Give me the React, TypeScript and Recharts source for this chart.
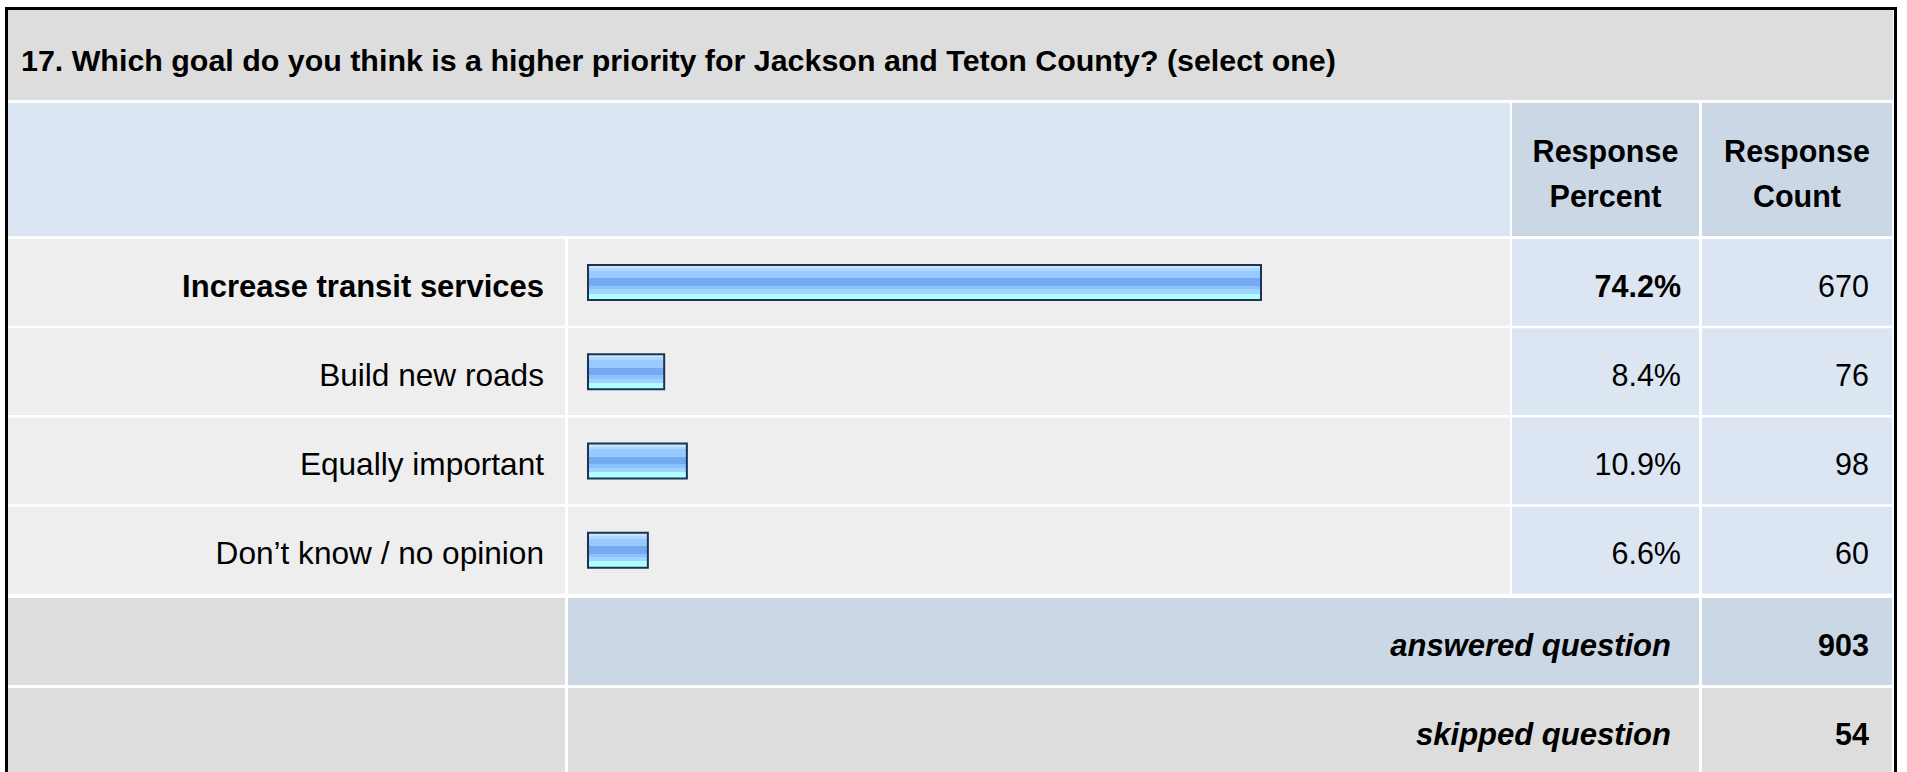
import React from "react"
import { BarChart, Bar, XAxis, YAxis, LabelList } from "recharts"

// survey question 17 – response summary
const TITLE = "17. Which goal do you think is a higher priority for Jackson and Teton County? (select one)"
const CATEGORIES = [
    "Increase transit services",
    "Build new roads",
    "Equally important",
    "Don’t know / no opinion",
]
const PERCENTS = [74.2, 8.4, 10.9, 6.6]
const COUNTS = [670, 76, 98, 60]
const ANSWERED = 903
const SKIPPED = 54

const W = 1907
const H = 772
const FONT = "'Liberation Sans', Arial, Helvetica, sans-serif"

// table geometry
const ROW_TOP = 239
const ROW_H = 89.25
const COL_LABEL = [8, 565]
const COL_BAR = [568, 1510]
const COL_PCT = [1512, 1699]
const COL_CNT = [1702, 1892]
const Y_AXIS_W = 40

const data = CATEGORIES.map((label, i) => ({ label, pct: PERCENTS[i], count: COUNTS[i] }))
const topIdx = PERCENTS.indexOf(Math.max(...PERCENTS))

function LabelTick(props: any) {
    const { y, payload } = props
    const bold = payload.value === CATEGORIES[topIdx]
    return (
        <text x={544} y={y + 14} textAnchor="end" fontFamily={FONT} fontSize={bold ? 31 : 31.6}
            fontWeight={bold ? "bold" : "normal"} fill="#000">
            {payload.value}
        </text>
    )
}

function PercentCell(props: any) {
    const { y, height, value, index } = props
    return (
        <text x={1681} y={y + height / 2 + 14} textAnchor="end" fontFamily={FONT} fontSize={30.5}
            fontWeight={index === topIdx ? "bold" : "normal"} fill="#000">
            {`${Number(value).toFixed(1)}%`}
        </text>
    )
}

function CountCell(props: any) {
    const { y, height, value } = props
    return (
        <text x={1869} y={y + height / 2 + 14} textAnchor="end" fontFamily={FONT} fontSize={30.5} fill="#000">
            {value}
        </text>
    )
}

function Cell({ col, top, h, fill }: { col: number[]; top: number; h: number; fill: string }) {
    return <rect x={col[0]} y={top} width={col[1] - col[0]} height={h} fill={fill} />
}

function TableBackground() {
    const footTop = ROW_TOP + ROW_H * CATEGORIES.length
    return (
        <svg width={W} height={H} style={{ position: "absolute", left: 0, top: 0 }}>
            <rect x={6.5} y={8.5} width={1889} height={790} fill="#fff" stroke="#000" strokeWidth={3} />
            <rect x={8} y={10} width={1885} height={90} fill="#dddddd" />
            <text x={21} y={71} fontFamily={FONT} fontSize={30.4} fontWeight="bold" fill="#000">{TITLE}</text>

            {/* header */}
            <rect x={8} y={103} width={COL_BAR[1] - 8} height={133} fill="#dce6f3" />
            <Cell col={COL_PCT} top={103} h={133} fill="#cbd7e5" />
            <Cell col={COL_CNT} top={103} h={133} fill="#cbd7e5" />
            {[["Response", "Percent", COL_PCT], ["Response", "Count", COL_CNT]].map(([a, b, col]: any, i) => (
                <text key={i} x={(col[0] + col[1]) / 2} textAnchor="middle" fontFamily={FONT} fontSize={30.5}
                    fontWeight="bold" fill="#000">
                    <tspan x={(col[0] + col[1]) / 2} y={162}>{a}</tspan>
                    <tspan x={(col[0] + col[1]) / 2} y={207}>{b}</tspan>
                </text>
            ))}

            {/* answer rows */}
            {CATEGORIES.map((_c, i) => {
                const top = ROW_TOP + i * ROW_H
                const h = ROW_H - 2.5
                return (
                    <g key={i}>
                        <Cell col={COL_LABEL} top={top} h={h} fill="#eeeeee" />
                        <Cell col={COL_BAR} top={top} h={h} fill="#eeeeee" />
                        <Cell col={COL_PCT} top={top} h={h} fill="#dce6f3" />
                        <Cell col={COL_CNT} top={top} h={h} fill="#dce6f3" />
                    </g>
                )
            })}

            {/* answered / skipped */}
            <Cell col={COL_LABEL} top={footTop + 2} h={87} fill="#dddddd" />
            <Cell col={[COL_BAR[0], COL_PCT[1]]} top={footTop + 2} h={87} fill="#cbd7e5" />
            <Cell col={COL_CNT} top={footTop + 2} h={87} fill="#cbd7e5" />
            <Cell col={COL_LABEL} top={footTop + 92} h={100} fill="#dddddd" />
            <Cell col={[COL_BAR[0], COL_PCT[1]]} top={footTop + 92} h={100} fill="#dddddd" />
            <Cell col={COL_CNT} top={footTop + 92} h={100} fill="#dddddd" />
            <g fontFamily={FONT} fontSize={30.5} fontWeight="bold" fill="#000">
                <text x={1671} y={footTop + 60} textAnchor="end" fontStyle="italic" fontSize={31}>answered question</text>
                <text x={1869} y={footTop + 60} textAnchor="end">{ANSWERED}</text>
                <text x={1671} y={footTop + 149} textAnchor="end" fontStyle="italic" fontSize={31}>skipped question</text>
                <text x={1869} y={footTop + 149} textAnchor="end">{SKIPPED}</text>
            </g>
        </svg>
    )
}

export default function App() {
    return (
        <div style={{ position: "absolute", left: 0, top: 0, width: W, height: H, overflow: "hidden", background: "#fff" }}>
            <TableBackground />
            <div style={{ position: "absolute", left: 0, top: 0 }}>
                <BarChart
                    width={W}
                    height={H}
                    data={data}
                    layout="vertical"
                    margin={{ top: ROW_TOP - 1, right: 412, bottom: H - (ROW_TOP - 1) - ROW_H * CATEGORIES.length, left: 588 - Y_AXIS_W }}
                    barCategoryGap={0}
                >
                    <defs>
                        <linearGradient id="barFill" x1="0" y1="0" x2="0" y2="1">
                            <stop offset="0" stopColor="#c8e4ff" />
                            <stop offset="0.09" stopColor="#c8e4ff" />
                            <stop offset="0.09" stopColor="#b0d8ff" />
                            <stop offset="0.17" stopColor="#b0d8ff" />
                            <stop offset="0.17" stopColor="#98caff" />
                            <stop offset="0.38" stopColor="#98caff" />
                            <stop offset="0.38" stopColor="#74aaf0" />
                            <stop offset="0.6" stopColor="#74aaf0" />
                            <stop offset="0.6" stopColor="#8cc0ff" />
                            <stop offset="0.7" stopColor="#8cc0ff" />
                            <stop offset="0.7" stopColor="#a0d4ff" />
                            <stop offset="0.82" stopColor="#a0d4ff" />
                            <stop offset="0.82" stopColor="#b0ffff" />
                            <stop offset="1" stopColor="#b0ffff" />
                        </linearGradient>
                    </defs>
                    <XAxis type="number" domain={[0, 100]} hide />
                    <YAxis type="category" dataKey="label" width={Y_AXIS_W} axisLine={false} tickLine={false}
                        interval={0} tick={<LabelTick />} />
                    <Bar dataKey="pct" barSize={35} fill="url(#barFill)" stroke="#1b3454" strokeWidth={2}
                        isAnimationActive={false}>
                        <LabelList dataKey="pct" content={<PercentCell />} />
                        <LabelList dataKey="count" content={<CountCell />} />
                    </Bar>
                </BarChart>
            </div>
        </div>
    )
}
